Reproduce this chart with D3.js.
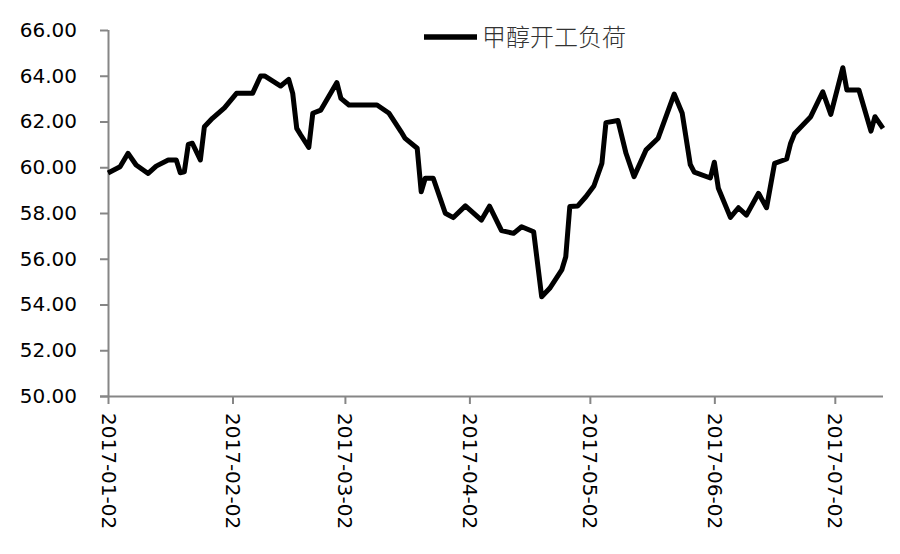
<!DOCTYPE html>
<html>
<head>
<meta charset="utf-8">
<script src="https://cdn.jsdelivr.net/npm/d3@7/dist/d3.min.js"></script>
<style>
  html, body { margin: 0; padding: 0; background: #fff; }
  svg { display: block; }
</style>
</head>
<body>
<svg id="chart" width="900" height="554"></svg>
<script>
const seriesName = "甲醇开工负荷";
const dates = [
  "2017-01-02","2017-01-05","2017-01-07","2017-01-09","2017-01-12","2017-01-14","2017-01-17","2017-01-19",
  "2017-01-20","2017-01-21","2017-01-22","2017-01-23","2017-01-25","2017-01-26","2017-01-28","2017-01-31",
  "2017-02-03","2017-02-07","2017-02-09","2017-02-10","2017-02-14","2017-02-16","2017-02-17","2017-02-18",
  "2017-02-19","2017-02-21","2017-02-22","2017-02-24","2017-02-28","2017-03-01","2017-03-03","2017-03-10",
  "2017-03-13","2017-03-16","2017-03-17","2017-03-20","2017-03-21","2017-03-22","2017-03-24","2017-03-27",
  "2017-03-29","2017-04-01","2017-04-05","2017-04-07","2017-04-10","2017-04-13","2017-04-15","2017-04-18",
  "2017-04-20","2017-04-22","2017-04-25","2017-04-26","2017-04-27","2017-04-29","2017-05-01","2017-05-03",
  "2017-05-05","2017-05-06","2017-05-09","2017-05-11","2017-05-13","2017-05-16","2017-05-19","2017-05-23",
  "2017-05-25","2017-05-27","2017-05-28","2017-06-01","2017-06-02","2017-06-03","2017-06-06","2017-06-08",
  "2017-06-10","2017-06-13","2017-06-15","2017-06-17","2017-06-20","2017-06-21","2017-06-22","2017-06-26",
  "2017-06-29","2017-07-01","2017-07-04","2017-07-05","2017-07-08","2017-07-11","2017-07-12","2017-07-14"
];
const values = [
  59.75,60.02,60.61,60.10,59.73,60.05,60.32,60.32,
  59.76,59.80,61.00,61.05,60.32,61.77,62.14,62.60,
  63.23,63.23,63.99,63.99,63.55,63.84,63.23,61.70,
  61.41,60.87,62.36,62.50,63.70,63.01,62.72,62.72,
  62.36,61.55,61.26,60.83,58.93,59.52,59.52,57.99,
  57.80,58.31,57.69,58.30,57.23,57.11,57.40,57.18,
  54.34,54.71,55.51,56.09,58.28,58.31,58.71,59.18,
  60.17,61.95,62.04,60.61,59.59,60.76,61.27,63.20,
  62.36,60.12,59.79,59.53,60.22,59.08,57.81,58.23,
  57.91,58.86,58.23,60.17,60.36,61.05,61.48,62.21,
  63.30,62.31,64.35,63.38,63.38,61.58,62.21,61.70
];
const yTicks = [50,52,54,56,58,60,62,64,66];
const xTickLabels = ["2017-01-02","2017-02-02","2017-03-02","2017-04-02","2017-05-02","2017-06-02","2017-07-02"];
const xDomain = ["2017-01-02","2017-07-14"];

(function () {
const parse = d3.utcParse("%Y-%m-%d");
const data = dates.map((d, i) => ({ date: parse(d), value: values[i] }));

const svg = d3.select("#chart");
const mLeft = 108, mRight = 883, mTop = 30, mBottom = 396;

const x = d3.scaleUtc().domain(xDomain.map(parse)).range([mLeft, mRight]);
const y = d3.scaleLinear().domain([50, 66]).range([mBottom, mTop]);

const axisColor = "#868686";
const font = "'DejaVu Sans', Verdana, sans-serif";

// Y axis
const yAxis = svg.append("g")
  .attr("transform", `translate(${mLeft},0)`)
  .call(d3.axisLeft(y).tickValues(yTicks).tickSize(8).tickPadding(23).tickFormat(d3.format(".2f")));
yAxis.select(".domain").attr("stroke", axisColor).attr("stroke-width", 2).attr("d", `M0.5,${mTop}V${mBottom}`);
yAxis.selectAll(".tick line").attr("stroke", axisColor).attr("stroke-width", 2);
yAxis.selectAll(".tick text").attr("fill", "#000").style("font-family", font).style("font-size", "20px");

// X axis
const xAxis = svg.append("g")
  .attr("transform", `translate(0,${mBottom})`)
  .call(d3.axisBottom(x).tickValues(xTickLabels.map(parse)).tickSize(8).tickFormat(d3.utcFormat("%Y-%m-%d")));
xAxis.select(".domain").attr("stroke", axisColor).attr("stroke-width", 2).attr("d", `M${mLeft - 8},0.5H${mRight}`);
xAxis.selectAll(".tick line").attr("stroke", axisColor).attr("stroke-width", 2);
xAxis.selectAll(".tick text")
  .attr("fill", "#000")
  .style("font-family", font).style("font-size", "20px")
  .attr("transform", "rotate(90)")
  .attr("text-anchor", "start")
  .attr("dy", "0.35em")
  .attr("x", 17)
  .attr("y", 0);

// Line
const line = d3.line().x(d => x(d.date)).y(d => y(d.value));
svg.append("path")
  .datum(data)
  .attr("fill", "none")
  .attr("stroke", "#000")
  .attr("stroke-width", 5)
  .attr("stroke-linejoin", "round")
  .attr("stroke-linecap", "butt")
  .attr("d", line);

// Legend
const lg = svg.append("g").attr("transform", "translate(424,37)");
lg.append("line").attr("x1", 0).attr("x2", 53).attr("y1", 0).attr("y2", 0)
  .attr("stroke", "#000").attr("stroke-width", 5.5);
lg.append("text").attr("x", 58).attr("y", 9)
  .attr("fill", "#333")
  .style("font-family", "'Noto Sans CJK SC', sans-serif")
  .style("font-weight", 300)
  .style("font-size", "24px")
  .text(seriesName);
})();
</script>
</body>
</html>
